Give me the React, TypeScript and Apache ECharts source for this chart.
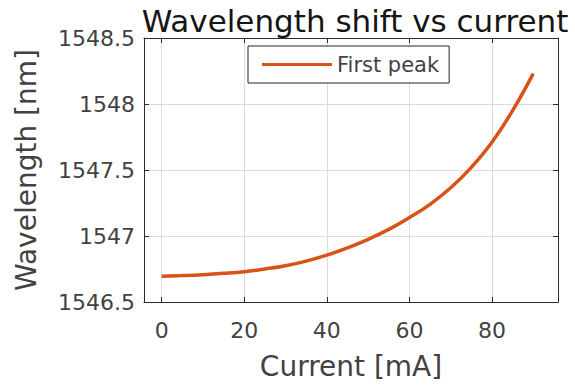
import React, { useEffect, useRef } from "react";
import * as echarts from "echarts";

const currents = [0, 5, 10, 15, 20, 25, 30, 35, 40, 45, 50, 55, 60, 65, 70, 75, 80, 85, 90];
const wavelengths = [
  1546.695, 1546.7, 1546.707, 1546.717, 1546.73, 1546.75, 1546.775, 1546.81, 1546.855,
  1546.91, 1546.975, 1547.05, 1547.14, 1547.24, 1547.365, 1547.52, 1547.71, 1547.95, 1548.23,
];
const xTicks = [0, 20, 40, 60, 80];
const seriesName = "First peak";
const titleText = "Wavelength shift vs current";
const xName = "Current [mA]";
const yName = "Wavelength [nm]";

const FONT = "DejaVu Sans";
const LINE = "#D95319";
const FRAME = "#2b2b2b";
const GRID = "#dcdcdc";
const TXT = "#424242";

export default function App() {
  const ref = useRef<HTMLDivElement>(null);
  useEffect(() => {
    const chart = echarts.init(ref.current!, null, { renderer: "svg" });
    const xMin = -4.3;
    const xMax = 96;
    const yMin = 1546.5;
    const yMax = 1548.5;
    const tickStyle = { show: true, inside: true, length: 5, lineStyle: { color: FRAME, width: 1 } };
    chart.setOption({
      animation: false,
      backgroundColor: "#ffffff",
      title: {
        text: titleText,
        left: 350,
        top: 0,
        textAlign: "center",
        textStyle: { fontFamily: FONT, fontSize: 31, fontWeight: "normal", color: "#151515" },
      },
      legend: {
        data: [seriesName],
        left: 248,
        top: 46,
        orient: "horizontal",
        icon: "rect",
        itemWidth: 70,
        itemHeight: 3,
        itemGap: 6,
        padding: [8, 10, 8, 14],
        borderColor: "#222",
        borderWidth: 1,
        backgroundColor: "#fff",
        textStyle: { fontFamily: FONT, fontSize: 21, color: TXT },
      },
      grid: { left: 144, right: 17, top: 38, bottom: 80, show: false },
      xAxis: [
        {
          type: "value",
          min: xMin,
          max: xMax,
          position: "bottom",
          name: xName,
          nameLocation: "middle",
          nameGap: 50,
          nameTextStyle: { fontFamily: FONT, fontSize: 28, color: TXT },
          axisLine: { show: true, onZero: false, lineStyle: { color: FRAME, width: 1 } },
          axisTick: { ...tickStyle, customValues: xTicks },
          axisLabel: {
            customValues: xTicks,
            margin: 17,
            fontFamily: FONT,
            fontSize: 22,
            color: TXT,
          },
          splitLine: { show: true, lineStyle: { color: GRID, width: 1 } },
        },
        {
          type: "value",
          min: xMin,
          max: xMax,
          position: "top",
          axisLine: { show: true, onZero: false, lineStyle: { color: FRAME, width: 1 } },
          axisTick: { ...tickStyle, customValues: xTicks },
          axisLabel: { show: false },
          splitLine: { show: false },
        },
      ],
      yAxis: [
        {
          type: "value",
          min: yMin,
          max: yMax,
          interval: 0.5,
          position: "left",
          name: yName,
          nameLocation: "middle",
          nameGap: 104,
          nameRotate: 90,
          nameTextStyle: { fontFamily: FONT, fontSize: 28, color: TXT },
          axisLine: { show: true, onZero: false, lineStyle: { color: FRAME, width: 1 } },
          axisTick: tickStyle,
          axisLabel: {
            margin: 9,
            fontFamily: FONT,
            fontSize: 22,
            color: TXT,
            formatter: (v: number) => String(v),
          },
          splitLine: { show: true, lineStyle: { color: GRID, width: 1 } },
        },
        {
          type: "value",
          min: yMin,
          max: yMax,
          interval: 0.5,
          position: "right",
          axisLine: { show: true, onZero: false, lineStyle: { color: FRAME, width: 1 } },
          axisTick: tickStyle,
          axisLabel: { show: false },
          splitLine: { show: false },
        },
      ],
      series: [
        {
          name: seriesName,
          type: "line",
          xAxisIndex: 0,
          yAxisIndex: 0,
          data: currents.map((c, i) => [c, wavelengths[i]]),
          showSymbol: false,
          smooth: 0.45,
          lineStyle: { color: LINE, width: 3.5 },
          itemStyle: { color: LINE },
        },
      ],
    });
    return () => chart.dispose();
  }, []);
  return (
    <div
      ref={ref}
      style={{ position: "fixed", left: 0, top: 0, width: 575, height: 385 }}
    />
  );
}
